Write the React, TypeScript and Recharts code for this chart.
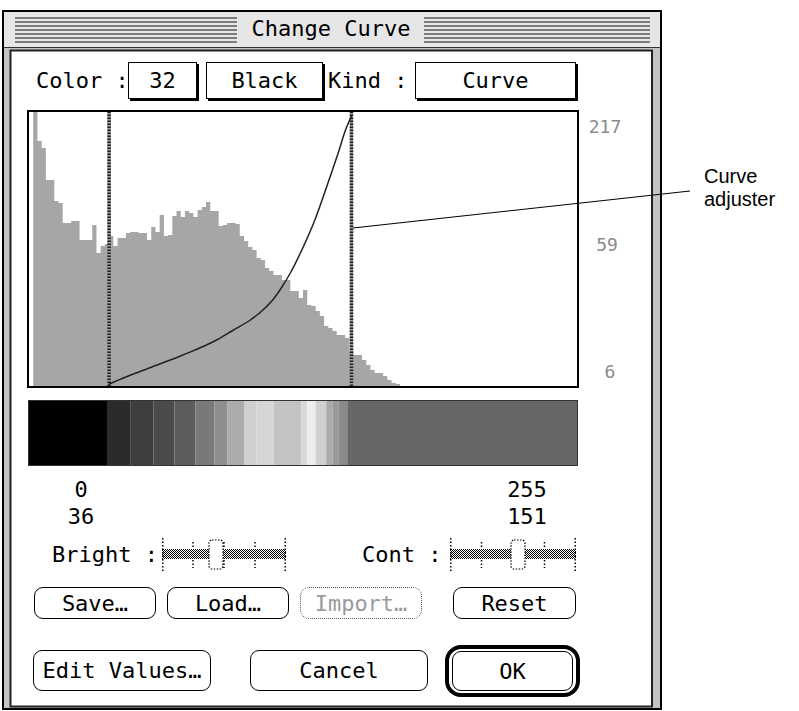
import React from 'react';
import { ComposedChart, Area, Line, XAxis, YAxis, ReferenceLine, ReferenceArea } from 'recharts';

// histogram: bin start level (2 levels per bin) and pixel count height
const histLevels = [
  0, 2, 4, 6, 8, 10, 12, 14, 16, 18, 20, 22, 24, 26, 28, 30, 32, 34, 36, 38,
  40, 42, 44, 46, 48, 50, 52, 54, 56, 58, 60, 62, 64, 66, 68, 70, 72, 74, 76, 78,
  80, 82, 84, 86, 88, 90, 92, 94, 96, 98, 100, 102, 104, 106, 108, 110, 112, 114, 116, 118,
  120, 122, 124, 126, 128, 130, 132, 134, 136, 138, 140, 142, 144, 146, 148, 150, 152, 154, 156, 158,
  160, 162, 164, 166, 168, 170, 172, 174,
];
const histCounts = [
  274, 245, 238, 206, 206, 185, 183, 163, 163, 165, 165, 146, 146, 146, 161, 133, 140, 142, 150, 140,
  148, 148, 153, 154, 154, 153, 153, 146, 159, 154, 171, 150, 151, 170, 175, 169, 175, 173, 169, 176,
  179, 184, 175, 175, 160, 161, 163, 163, 162, 150, 145, 139, 136, 128, 126, 118, 115, 111, 111, 106,
  106, 95, 95, 88, 96, 81, 80, 75, 70, 60, 58, 55, 51, 51, 48, 35, 31, 31, 26, 21,
  16, 13, 13, 10, 6, 3, 2, 0,
];

// transfer curve
const curveIn = [36, 44, 55, 71, 87, 95, 103, 109, 114, 118, 122, 127, 134, 140, 145, 148, 151];
const curveOut = [2, 9, 18, 31, 46, 56, 66, 76, 87, 99, 113, 134, 168, 204, 235, 255, 270];

// limits of the curve adjuster
const lowLimit = 36;
const highLimit = 151;

// grey bands of the lookup table bar
const bandStart = [0, 35, 46, 57, 67, 77, 86, 92, 100, 106, 114, 127, 130, 134, 139, 142, 145, 149];
const bandGray = [
  '#000000', '#2b2b2b', '#3e3e3e', '#4b4b4b', '#5c5c5c', '#797979', '#8e8e8e', '#ababab', '#cfcfcf',
  '#d6d6d6', '#c3c3c3', '#d8d8d8', '#ededed', '#d0d0d0', '#aaaaaa', '#999999', '#8a8a8a', '#676767',
];

const scaleLabels = ['217', '59', '6'];

const histRows = histLevels.map((level, i) => ({ level, count: histCounts[i] }));
const curveRows = curveIn.map((level, i) => ({ level, out: curveOut[i] }));
const bandRows = bandStart.map((level) => ({ level, v: 0.5 }));

const FONT = "'DejaVu Sans Mono', monospace";
const X_DOMAIN: [number, number] = [-2, 258];

const abs = (x: number, y: number, w: number, h: number): React.CSSProperties => ({
  position: 'absolute', left: x, top: y, width: w, height: h, boxSizing: 'border-box',
});

function Txt({ cx, cy, children, size = 22, color = '#000', anchor = 'center' }: any) {
  const w = 240;
  const left = anchor === 'left' ? cx : anchor === 'right' ? cx - w : cx - w / 2;
  return (
    <div style={{ ...abs(left, cy - 16, w, 32), lineHeight: '32px', fontSize: size, color,
      textAlign: anchor, fontFamily: FONT, whiteSpace: 'pre' }}>
      {children}
    </div>
  );
}

function Field({ x, y, w, h, label }: any) {
  return (
    <div style={{ ...abs(x, y, w, h), border: '1.5px solid #000', boxShadow: '2px 2px 0 #000',
      background: '#fff', display: 'flex', alignItems: 'center', justifyContent: 'center',
      fontFamily: FONT, fontSize: 22 }}>
      {label}
    </div>
  );
}

function Btn({ x, y, w, h, label, disabled }: any) {
  return (
    <div style={{ ...abs(x, y, w, h), border: disabled ? '1.5px dotted #555' : '1.5px solid #000',
      borderRadius: 9, background: '#fff', display: 'flex', alignItems: 'center', justifyContent: 'center',
      fontFamily: FONT, fontSize: 22, color: disabled ? '#9a9a9a' : '#000' }}>
      {label}
    </div>
  );
}

function Slider({ x, y, w, thumb }: any) {
  const ticks = [0.25, 0.5, 0.75];
  return (
    <svg style={{ position: 'absolute', left: x, top: y }} width={w} height={34}>
      <defs>
        <pattern id="chk" width="2" height="2" patternUnits="userSpaceOnUse">
          <rect width="2" height="2" fill="#fff" />
          <rect width="1" height="1" fill="#000" />
          <rect x="1" y="1" width="1" height="1" fill="#000" />
        </pattern>
      </defs>
      <rect x={0} y={11} width={w} height={10} fill="url(#chk)" />
      <line x1={0.75} y1={0} x2={0.75} y2={34} stroke="#000" strokeWidth={1.5} strokeDasharray="1.5 2" />
      <line x1={w - 0.75} y1={0} x2={w - 0.75} y2={34} stroke="#000" strokeWidth={1.5} strokeDasharray="1.5 2" />
      {ticks.map((t) => (
        <g key={t}>
          <line x1={w * t} y1={4} x2={w * t} y2={10} stroke="#000" strokeWidth={1.5} strokeDasharray="1.5 2" />
          <line x1={w * t} y1={22} x2={w * t} y2={30} stroke="#000" strokeWidth={1.5} strokeDasharray="1.5 2" />
        </g>
      ))}
      <rect x={thumb} y={2} width={14} height={29} rx={3} fill="#fff" stroke="#000" strokeWidth={1.2}
        strokeDasharray="1.5 1.5" />
    </svg>
  );
}

function Frame() {
  const stripes = [18, 22, 26, 30, 34, 38, 42];
  return (
    <svg style={{ position: 'absolute', left: 0, top: 0 }} width={799} height={711}>
      <rect x={3} y={11} width={658} height={698} fill="#c4c4c4" stroke="#000" strokeWidth={2} />
      <rect x={4} y={12} width={656} height={35} fill="#e6e6e6" />
      <line x1={4} y1={47.5} x2={660} y2={47.5} stroke="#333" strokeWidth={1} />
      {stripes.map((s) => (
        <g key={s}>
          <line x1={15} y1={s} x2={237} y2={s} stroke="#7c7c7c" strokeWidth={2} />
          <line x1={424} y1={s} x2={650} y2={s} stroke="#7c7c7c" strokeWidth={2} />
        </g>
      ))}
      <rect x={10.5} y={50.5} width={641.5} height={656} fill="#fff" stroke="#222" strokeWidth={2} />
    </svg>
  );
}

export default function App() {
  return (
    <div style={{ position: 'absolute', left: 0, top: 0, width: 799, height: 711, background: '#fff', overflow: 'hidden' }}>
      <Frame />
      <Txt cx={331} cy={29}>Change Curve</Txt>

      <Txt cx={36} cy={81} anchor="left">Color :</Txt>
      <Field x={128} y={62} w={69} h={37} label="32" />
      <Field x={206} y={62} w={117} h={37} label="Black" />
      <Txt cx={328} cy={81} anchor="left">Kind :</Txt>
      <Field x={415} y={62} w={161} h={37} label="Curve" />

      <div style={{ ...abs(27, 110, 552, 278), border: '2px solid #000' }}>
        <ComposedChart width={548} height={274} margin={{ top: 0, right: 0, bottom: 0, left: 0 }}>
          <XAxis hide type="number" dataKey="level" domain={X_DOMAIN} allowDataOverflow />
          <YAxis hide type="number" domain={[0, 274]} allowDataOverflow />
          <Area data={histRows} dataKey="count" type="stepAfter" fill="#a6a6a6" fillOpacity={1}
            stroke="none" isAnimationActive={false} />
          {[lowLimit, highLimit].map((v) => (
            <ReferenceLine key={`b${v}`} x={v} stroke="#9a9a9a" strokeWidth={3.5} />
          ))}
          {[lowLimit, highLimit].map((v) => (
            <ReferenceLine key={`d${v}`} x={v} stroke="#222" strokeWidth={3.5} strokeDasharray="1.5 1.5" />
          ))}
          <Line data={curveRows} dataKey="out" type="monotone" stroke="#222" strokeWidth={1.5}
            dot={false} isAnimationActive={false} />
        </ComposedChart>
      </div>

      <Txt cx={605} cy={127} size={18} color="#8a8a8a">{scaleLabels[0]}</Txt>
      <Txt cx={607} cy={245} size={18} color="#8a8a8a">{scaleLabels[1]}</Txt>
      <Txt cx={610} cy={372} size={18} color="#8a8a8a">{scaleLabels[2]}</Txt>

      <div style={{ ...abs(28, 400, 550, 66), border: '1px solid #333' }}>
        <ComposedChart width={548} height={64} data={bandRows} margin={{ top: 0, right: 0, bottom: 0, left: 0 }}>
          <XAxis hide type="number" dataKey="level" domain={X_DOMAIN} allowDataOverflow />
          <YAxis hide type="number" domain={[0, 1]} />
          {bandGray.map((g, i) => (
            <ReferenceArea key={i} x1={i === 0 ? X_DOMAIN[0] : bandStart[i]}
              x2={i === bandGray.length - 1 ? X_DOMAIN[1] : bandStart[i + 1]}
              y1={0} y2={1}
              fill={g} fillOpacity={1} stroke="none" ifOverflow="visible" />
          ))}
          <Line dataKey="v" stroke="none" dot={false} isAnimationActive={false} />
        </ComposedChart>
      </div>

      <Txt cx={81} cy={490}>0</Txt>
      <Txt cx={527} cy={490}>255</Txt>
      <Txt cx={81} cy={517}>{lowLimit}</Txt>
      <Txt cx={527} cy={517}>{highLimit}</Txt>

      <Txt cx={52} cy={555} anchor="left">Bright :</Txt>
      <Slider x={162} y={538} w={124} thumb={47} />
      <Txt cx={362} cy={555} anchor="left">Cont :</Txt>
      <Slider x={450} y={538} w={126} thumb={61} />

      <Btn x={34} y={587} w={122} h={32} label="Save…" />
      <Btn x={167} y={587} w={122} h={32} label="Load…" />
      <Btn x={300} y={587} w={122} h={32} label="Import…" disabled />
      <Btn x={453} y={587} w={123} h={32} label="Reset" />

      <Btn x={33} y={650} w={178} h={41} label="Edit Values…" />
      <Btn x={250} y={650} w={178} h={41} label="Cancel" />
      <div style={{ ...abs(445, 645, 135, 52), border: '4px solid #000', borderRadius: 16 }} />
      <Btn x={452} y={651} w={121} h={40} label="OK" />

      <svg style={{ position: 'absolute', left: 0, top: 0, pointerEvents: 'none' }} width={799} height={711}>
        <line x1={353} y1={228} x2={690} y2={191} stroke="#000" strokeWidth={1.2} />
        <text x={704} y={183} fontFamily="'Liberation Sans', Arial, sans-serif" fontSize={20}>Curve</text>
        <text x={704} y={206} fontFamily="'Liberation Sans', Arial, sans-serif" fontSize={20}>adjuster</text>
      </svg>
    </div>
  );
}
